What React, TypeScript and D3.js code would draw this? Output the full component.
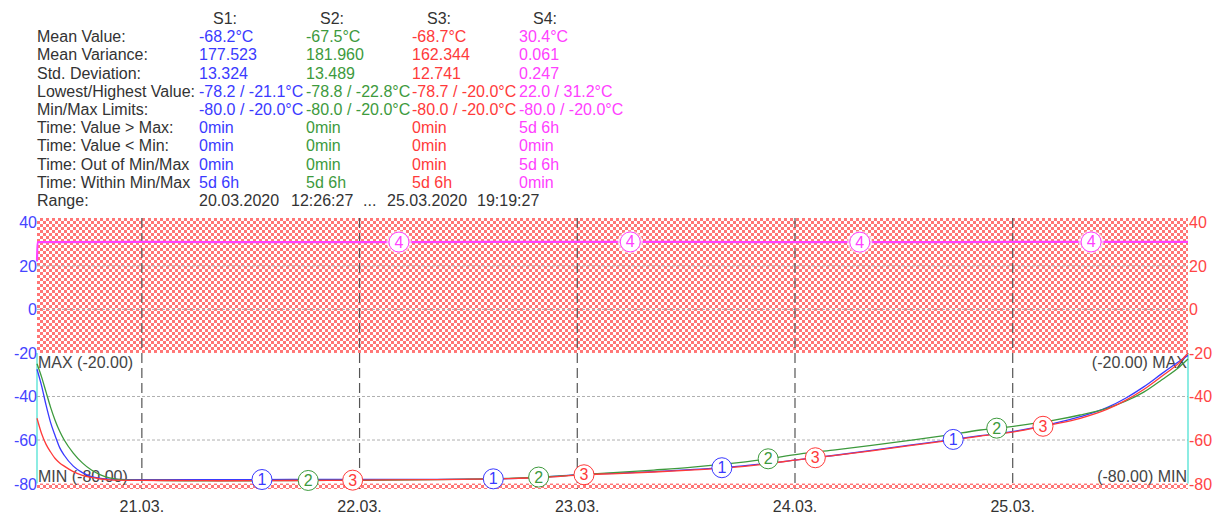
import React from "react";
import * as d3 from "d3";

const W = 1218;
const H = 516;
const START = new Date(2020, 2, 20, 12, 26, 27);
const END = new Date(2020, 2, 25, 19, 19, 27);

const LIMIT_MIN = -80;
const LIMIT_MAX = -20;
const Y_TICKS = [-80, -60, -40, -20, 0, 20, 40];

// hours after START
const HOURS = [0, 0.5, 1, 1.5, 2, 2.5, 3, 4, 5, 6, 7, 8, 10, 14, 20, 28, 36, 44, 48, 52, 56, 60, 64, 68, 72, 76, 80, 84, 88, 92, 96, 100, 104, 108, 112, 115, 118, 120, 122, 124, 126, 126.88];
const S1 = [-27.5, -35, -44, -52, -58, -63.5, -67, -72, -75, -76.8, -77.6, -78.0, -78.2, -78.2, -78.2, -78.1, -78.1, -78.1, -78.0, -77.7, -77.0, -75.8, -75.2, -74.5, -73.6, -72.6, -71.0, -69.0, -67.0, -64.8, -62.5, -60.3, -58.0, -55.8, -52.5, -49.3, -45.0, -40.8, -35.6, -29.5, -23.6, -21.1];
const S2 = [-25, -31, -38, -45, -51, -56, -60, -66, -70.5, -73.8, -76, -77.4, -78.4, -78.6, -78.8, -78.6, -78.5, -78.2, -78.0, -77.6, -76.9, -75.9, -74.9, -73.8, -72.6, -71.0, -69.0, -66.5, -64.5, -62.5, -60.3, -58.0, -55.4, -53.5, -51.0, -48.5, -45.3, -42.2, -38.0, -32.3, -26.2, -22.8];
const S3 = [-50, -57, -62, -65.5, -68.5, -70.5, -72, -74.5, -76.2, -77.2, -77.9, -78.3, -78.5, -78.6, -78.7, -78.6, -78.4, -78.2, -78.0, -77.7, -77.1, -76.0, -75.4, -74.7, -73.8, -72.8, -71.2, -69.0, -67.1, -65.0, -62.7, -60.5, -58.2, -56.0, -52.8, -50.0, -45.8, -41.8, -36.8, -30.7, -24.1, -20.0];
const HOURS_S4 = [0, 0.05, 12, 30, 50, 70, 90, 110, 126.88];
const S4 = [22.0, 30.9, 31.0, 30.9, 31.0, 31.0, 30.9, 31.0, 31.0];

const MARK_HOURS = [
  [24.8, 50.3, 75.5, 101.0],
  [29.9, 55.3, 80.6, 105.8],
  [34.8, 60.3, 85.8, 110.9],
  [39.9, 65.4, 90.7, 116.2],
];

const COLORS = ["#3a3aff", "#3d9a3d", "#ff3a3a", "#ff40ff"];
const TEXT = "#333";
const FONT = "'Liberation Sans', Arial, sans-serif";

const STAT_LABELS = ["Mean Value:", "Mean Variance:", "Std. Deviation:", "Lowest/Highest Value:", "Min/Max Limits:", "Time: Value > Max:", "Time: Value < Min:", "Time: Out of Min/Max", "Time: Within Min/Max"];
const STAT_S1 = ["-68.2°C", "177.523", "13.324", "-78.2 / -21.1°C", "-80.0 / -20.0°C", "0min", "0min", "0min", "5d 6h"];
const STAT_S2 = ["-67.5°C", "181.960", "13.489", "-78.8 / -22.8°C", "-80.0 / -20.0°C", "0min", "0min", "0min", "5d 6h"];
const STAT_S3 = ["-68.7°C", "162.344", "12.741", "-78.7 / -20.0°C", "-80.0 / -20.0°C", "0min", "0min", "0min", "5d 6h"];
const STAT_S4 = ["30.4°C", "0.061", "0.247", "22.0 / 31.2°C", "-80.0 / -20.0°C", "5d 6h", "0min", "5d 6h", "0min"];
const HEADERS = ["S1:", "S2:", "S3:", "S4:"];
const RANGE_PARTS = ["20.03.2020", "12:26:27", "...", "25.03.2020", "19:19:27"];

const toDate = (h) => new Date(START.getTime() + h * 3600000);

function valueAt(hours, values, h) {
  const i = Math.min(Math.max(d3.bisectRight(hours, h), 1), hours.length - 1);
  const t = (h - hours[i - 1]) / (hours[i] - hours[i - 1]);
  return values[i - 1] + t * (values[i] - values[i - 1]);
}

export default function App() {
  const x = d3.scaleTime().domain([START, END]).range([37, 1188]);
  const y = d3.scaleLinear().domain([-82.5, 42]).range([489, 218]);
  const [x0, x1] = x.range();
  const [yb, yt] = y.range();

  const line = d3
    .line()
    .x((d) => x(toDate(d[0])))
    .y((d) => y(d[1]))
    .curve(d3.curveMonotoneX);

  const series = [
    { hours: HOURS, values: S1 },
    { hours: HOURS, values: S2 },
    { hours: HOURS, values: S3 },
    { hours: HOURS_S4, values: S4 },
  ];

  const days = d3.timeDay.range(d3.timeDay.ceil(START), END);
  const fmtDay = d3.timeFormat("%d.%m.");

  const colX = [199, 306, 412, 519];
  const headX = [213, 320, 427, 533];
  const statCols = [STAT_S1, STAT_S2, STAT_S3, STAT_S4];
  const rowY = (i) => 24 + 18.2 * i;

  return (
    <svg
      width={W}
      height={H}
      style={{ position: "absolute", left: 0, top: 0, background: "#fff", fontFamily: FONT }}
    >
      <defs>
        <pattern id="hatch" x={37} y={218} width="6" height="6" patternUnits="userSpaceOnUse">
          <rect width="6" height="6" fill="#ff7676" />
          <rect x="0" y="0" width="3" height="3" fill="#fff" />
          <rect x="3" y="3" width="3" height="3" fill="#fff" />
        </pattern>
      </defs>

      {/* stats table */}
      <g fontSize={16}>
        {HEADERS.map((h, i) => (
          <text key={h} x={headX[i]} y={rowY(0)} fill={TEXT}>{h}</text>
        ))}
        {STAT_LABELS.map((l, r) => (
          <text key={l} x={37} y={rowY(r + 1)} fill={TEXT}>{l}</text>
        ))}
        {statCols.map((col, c) =>
          col.map((v, r) => (
            <text key={c + "-" + r} x={colX[c]} y={rowY(r + 1)} fill={COLORS[c]}>{v}</text>
          ))
        )}
        <text x={37} y={rowY(10)} fill={TEXT}>Range:</text>
        {RANGE_PARTS.map((p, i) => (
          <text key={i} x={[199, 291, 363, 387, 477][i]} y={rowY(10)} fill={TEXT}>{p}</text>
        ))}
      </g>

      {/* limit zones */}
      <rect x={x0} y={yt} width={x1 - x0} height={y(LIMIT_MAX) - yt} fill="url(#hatch)" />
      <rect x={x0} y={y(LIMIT_MIN)} width={x1 - x0} height={yb - y(LIMIT_MIN)} fill="url(#hatch)" />

      {/* grid */}
      {Y_TICKS.filter((t) => t !== LIMIT_MIN && t !== LIMIT_MAX && t !== 40).map((t) => (
        <line key={t} x1={x0} x2={x1} y1={y(t)} y2={y(t)} stroke="#b0b0b0" strokeWidth={1} strokeDasharray="3,2" />
      ))}
      {days.map((d) => (
        <line key={+d} x1={x(d)} x2={x(d)} y1={yt} y2={yb} stroke="#555" strokeWidth={1.2} strokeDasharray="10,5" />
      ))}
      <line x1={x0} x2={x0} y1={y(LIMIT_MAX)} y2={y(LIMIT_MIN)} stroke="#40e0d0" strokeWidth={1.2} />
      <line x1={x1} x2={x1} y1={y(LIMIT_MAX)} y2={y(LIMIT_MIN)} stroke="#40e0d0" strokeWidth={1.2} />

      {/* limit labels */}
      <g fontSize={16} fill="#444">
        <text x={x0 + 1} y={y(LIMIT_MAX) + 15}>MAX (-20.00)</text>
        <text x={x0 + 1} y={y(LIMIT_MIN) - 2}>MIN (-80.00)</text>
        <text x={x1 - 1} y={y(LIMIT_MAX) + 15} textAnchor="end">(-20.00) MAX</text>
        <text x={x1 - 1} y={y(LIMIT_MIN) - 2} textAnchor="end">(-80.00) MIN</text>
      </g>

      {/* lines */}
      {series.map((s, i) => (
        <path
          key={i}
          d={line(s.hours.map((h, k) => [h, s.values[k]]))}
          fill="none"
          stroke={COLORS[i]}
          strokeWidth={i === 3 ? 2.2 : 1.3}
        />
      ))}

      {/* markers */}
      {MARK_HOURS.map((hs, i) =>
        hs.map((h) => {
          const cx = x(toDate(h));
          const cy = y(valueAt(series[i].hours, series[i].values, h));
          return (
            <g key={i + "-" + h}>
              {i === 3 && <ellipse cx={cx} cy={cy} rx={12.5} ry={11.5} fill="#fff" opacity={0.6} />}
              <ellipse cx={cx} cy={cy} rx={10} ry={10} fill="#fff" stroke={COLORS[i]} strokeWidth={1} />
              <text x={cx} y={cy + 5.5} textAnchor="middle" fontSize={16} fill={COLORS[i]}>{i + 1}</text>
            </g>
          );
        })
      )}

      {/* axes */}
      <g fontSize={16}>
        {Y_TICKS.map((t) => (
          <text key={"l" + t} x={x0} y={y(t) + 6} textAnchor="end" fill="#4545ff">{t}</text>
        ))}
        {Y_TICKS.map((t) => (
          <text key={"r" + t} x={x1 + 1} y={y(t) + 6} fill="#ff4545">{t}</text>
        ))}
        {days.map((d) => (
          <text key={+d} x={x(d)} y={512} textAnchor="middle" fill={TEXT}>{fmtDay(d)}</text>
        ))}
      </g>
    </svg>
  );
}
